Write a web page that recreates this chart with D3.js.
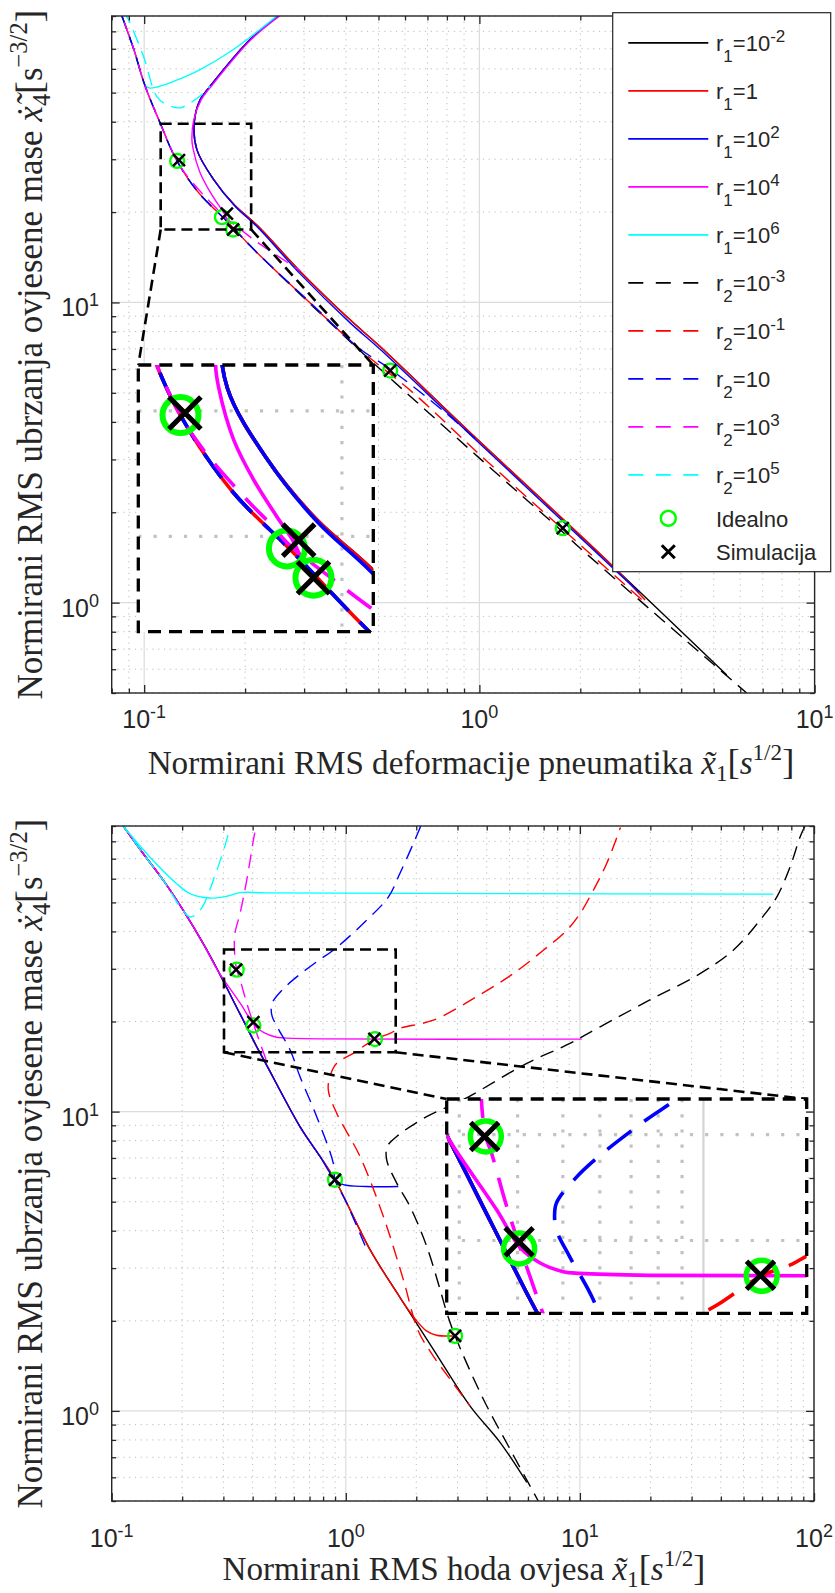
<!DOCTYPE html>
<html><head><meta charset="utf-8">
<script src="https://cdn.jsdelivr.net/npm/d3@7"></script>
<style>body{margin:0;background:#fff}svg{display:block}</style>
</head><body>
<script>
// ---------------- DATA ----------------
// Upper plot: x = tyre deflection RMS, y = sprung mass acceleration RMS
const topBlackSolid = [[0.2515,90],[0.207,75.1],[0.1573,52.5],[0.1469,47.4],[0.141,39.6],[0.1436,32.3],[0.161,25.7],[0.186,21.1],[0.218,18.0],[0.292,12.69],[0.4115,8.75],[0.5056,7.13],[0.98,3.52],[2.51,1.318],[5.47,0.574]];
const topRedSolid = [[0.2515,90],[0.207,75.1],[0.1573,52.5],[0.1469,47.4],[0.141,39.6],[0.1436,32.3],[0.161,25.7],[0.186,21.1],[0.218,18.0],[0.292,12.69],[0.4115,8.75],[0.5056,7.13],[0.98,3.52],[2.51,1.318],[3.12,1.02]];
const topBlueSolid = [[0.2515,90],[0.207,75.1],[0.1573,52.5],[0.1469,47.4],[0.141,39.6],[0.1436,32.3],[0.161,25.7],[0.186,21.0],[0.218,17.8],[0.292,12.45],[0.4115,8.55],[0.5056,6.98],[0.98,3.47],[2.51,1.3],[3.0,1.08]];
const topMagentaSolid = [[0.2535,90],[0.2085,75.1],[0.1585,52.5],[0.148,47.4],[0.1405,40.5],[0.1388,34.8],[0.14,32.4],[0.1463,27.3],[0.155,24.0],[0.1658,21.3],[0.1723,20.0],[0.1745,19.5],[0.179,18.4],[0.1842,17.5]];
const topCyanSolid = [[0.0858,90],[0.093,70],[0.1007,53],[0.1035,51.8],[0.11,52.3],[0.1223,54.5],[0.1469,59.7],[0.1846,69.6],[0.2487,90]];
const topBlackDashed = [[0.0858,90],[0.093,70],[0.1007,52.5],[0.1116,39.6],[0.1245,30],[0.1449,23.3],[0.174,18.95],[0.2139,14.9],[0.3127,9.9],[0.4407,6.9],[1.0,3.03],[1.773,1.72],[1.996,1.52],[6.27,0.5]];
const topRedDashed = [[0.0858,90],[0.093,70],[0.1007,52.5],[0.1116,39.6],[0.1245,30],[0.1449,23.3],[0.174,18.95],[0.2139,14.9],[0.3127,9.95],[0.4407,6.96],[0.6355,4.99],[1.0,3.12],[1.996,1.56],[3.12,1.0]];
const topBlueDashed = [[0.0858,90],[0.093,70],[0.1007,52.5],[0.1116,39.6],[0.1245,30],[0.1449,23.3],[0.174,18.95],[0.2139,14.9],[0.3127,10.0],[0.4407,7.0],[0.5417,6.0],[0.781,4.35],[1.005,3.40]];
const topMagentaDashed = [[0.0858,90],[0.093,70],[0.1007,52.5],[0.1116,39.6],[0.1245,30],[0.1342,26.4],[0.152,22.5],[0.1642,20.6],[0.1706,19.6],[0.199,17.1],[0.217,15.9],[0.25,14.3],[0.292,12.75]];
const topCyanDashed = [[0.0885,90],[0.0898,87.5],[0.0995,66.1],[0.1091,48.5],[0.1169,45.6],[0.128,44.5],[0.137,46.2],[0.1469,48.7],[0.1573,52.5]];
const topIdeal = [[0.1254,29.6],[0.1706,19.24],[0.1842,17.5],[0.5417,5.93],[1.773,1.77]];
const topSim = [[0.127,29.8],[0.1765,19.76],[0.1842,17.5],[0.5417,5.93],[1.773,1.77]];
const topZoomX = [0.112,0.2085], topZoomY = [17.5,39.4];
const topInsetX = [0.111,0.219], topInsetY = [14.7,34.8];

// Lower plot: x = suspension travel RMS, y = sprung mass acceleration RMS
const botBlackSolid = [[0.112,90],[0.1365,72.7],[0.1662,59.2],[0.2022,47.0],[0.246,36.4],[0.2841,29.6],[0.3533,21.2],[0.4249,15.98],[0.459,14.3],[0.637,8.91],[0.776,7.08],[0.899,5.92],[1.269,3.46],[1.70,2.40],[2.365,1.606],[3.39,1.04],[4.56,0.785],[5.93,0.577]];
const botRedSolid = [[0.112,90],[0.1365,72.7],[0.1662,59.2],[0.2022,47.0],[0.246,36.4],[0.2841,29.6],[0.3533,21.2],[0.4249,15.98],[0.459,14.3],[0.637,8.91],[0.776,7.08],[0.899,5.92],[1.269,3.46],[1.70,2.40],[1.95,2.06],[2.21,1.85],[2.44,1.79],[2.93,1.78]];
const botBlueSolid = [[0.112,90],[0.1365,72.7],[0.1662,59.2],[0.2022,47.0],[0.246,36.4],[0.2841,29.6],[0.3533,21.2],[0.4249,15.98],[0.459,14.3],[0.637,8.91],[0.776,7.08],[0.899,5.92],[0.976,5.70],[1.228,5.62],[1.676,5.62]];
const botMagentaSolid = [[0.112,90],[0.1365,72.7],[0.1662,59.2],[0.2022,47.0],[0.246,36.4],[0.2841,29.6],[0.3607,22.5],[0.4055,19.45],[0.447,18.35],[0.501,17.75],[0.544,17.63],[0.768,17.5],[10.18,17.47]];
const botCyanSolid = [[0.112,90],[0.1458,70.8],[0.1896,57.7],[0.216,53.5],[0.263,51.7],[0.31,52.4],[0.353,53.9],[0.459,53.8],[5,53.5],[67,53.3]];
const botBlackDashed = [[91.5,90],[87.1,82.5],[79,65.6],[69.3,52.1],[58.8,43.6],[45.2,34.6],[32.6,28.9],[19.9,23.6],[12.2,19.2],[8.78,16.7],[5.93,14.5],[3.2,11.0],[2.215,9.62],[1.65,8.26],[1.504,7.64],[1.495,6.9],[1.65,5.77],[1.88,4.82],[2.215,3.55],[2.526,2.55],[2.70,2.13],[2.93,1.78],[3.87,1.094],[5.03,0.745],[6.64,0.5]];
const botRedDashed = [[14.9,89],[13.0,67.3],[11.4,54.8],[10.0,45.8],[8.78,40.3],[6.98,34.6],[5.19,28.9],[3.62,24.2],[2.365,20.2],[1.70,18.97],[1.545,18.25],[1.333,17.47],[1.076,15.66],[0.914,14.5],[0.856,13.1],[0.842,11.8],[0.914,9.88],[1.15,7.08],[1.446,4.47],[1.76,2.75],[2.04,1.85],[2.365,1.525],[2.79,1.276],[3.39,1.04]];
const botBlueDashed = [[2.09,90],[2.01,83.6],[1.70,62.3],[1.519,52.1],[1.228,43.6],[0.884,34.6],[0.756,31.8],[0.597,27.6],[0.53,25.3],[0.4846,23.1],[0.48,22.0],[0.4846,20.8],[0.517,18.8],[0.58,15.98],[0.637,13.1],[0.751,9.62],[0.884,6.73],[0.899,5.92],[1.009,4.95],[1.228,3.46]];
const botMagentaDashed = [[0.416,90],[0.409,85.8],[0.3773,59.2],[0.3533,45.9],[0.336,39.3],[0.3348,34.1],[0.342,29.8],[0.3517,27.96],[0.379,22.8],[0.418,18.1],[0.447,15.6],[0.47,14.0]];
const botCyanDashed = [[0.112,90],[0.1365,72.7],[0.1662,59.2],[0.199,47.6],[0.216,44.7],[0.2383,47.0],[0.281,63.9],[0.315,84.7],[0.32,90]];
const botIdeal = [[0.342,29.8],[0.403,19.4],[1.333,17.47],[0.899,5.92],[2.93,1.78]];
const botSim = [[0.34,29.8],[0.403,19.9],[1.325,17.5],[0.899,5.92],[2.93,1.78]];
const botZoomX = [0.3018,1.634], botZoomY = [15.78,34.8];
const botInsetX = [0.282,1.664], botInsetY = [15.13,34.4];

// legend texts
const legendSub = ['1','1','1','1','1','2','2','2','2','2'];
const legendBase = ['10','1','10','10','10','10','10','10','10','10'];
const legendExp = ['-2','','2','4','6','-3','-1','','3','5'];
const legendMarkers = ['Idealno','Simulacija'];

// axis titles
const topXTitle = 'Normirani RMS deformacije pneumatika ';
const botXTitle = 'Normirani RMS hoda ovjesa ';
const yTitle = 'Normirani RMS ubrzanja ovjesene mase ';

// ---------------- DRAWING ----------------
const COLORS = {k:'#000000', r:'#ff0000', b:'#0000ff', m:'#ff00ff', c:'#00ffff'};
const series = [
  {c:'k', dash:false, off:0, top:topBlackSolid, bot:botBlackSolid},
  {c:'r', dash:false, off:0, top:topRedSolid, bot:botRedSolid},
  {c:'b', dash:false, off:0, top:topBlueSolid, bot:botBlueSolid},
  {c:'m', dash:false, off:0, top:topMagentaSolid, bot:botMagentaSolid},
  {c:'c', dash:false, off:0, top:topCyanSolid, bot:botCyanSolid},
  {c:'k', dash:true, off:0, top:topBlackDashed, bot:botBlackDashed},
  {c:'r', dash:true, off:11, top:topRedDashed, bot:botRedDashed},
  {c:'b', dash:true, off:0, top:topBlueDashed, bot:botBlueDashed},
  {c:'m', dash:true, off:15, top:topMagentaDashed, bot:botMagentaDashed},
  {c:'c', dash:true, off:6, top:topCyanDashed, bot:botCyanDashed}
];

const W = 835, H = 1593;
const svg = d3.select('body').append('svg').attr('width',W).attr('height',H);
svg.append('rect').attr('width',W).attr('height',H).attr('fill','#fff');
const AX = '#262626';
const SANS = '"Liberation Sans", Arial, Helvetica, sans-serif';
const SERIF = '"Liberation Serif", "Times New Roman", serif';

function logTicks(d){
  const out=[]; const lo=Math.floor(Math.log10(d[0])), hi=Math.ceil(Math.log10(d[1]));
  for(let k=lo;k<=hi;k++) for(let t=1;t<10;t++){
    const v=+(t*Math.pow(10,k)).toPrecision(6);
    if(v>=d[0]*0.9999 && v<=d[1]*1.0001) out.push(v);
  }
  return out;
}
const isMajor = v => Math.abs(Math.log10(v)-Math.round(Math.log10(v)))<1e-9;

function drawMarkers(g, x, y, data, kind, r, sw){
  if(kind==='o'){
    g.selectAll(null).data(data).join('circle')
      .attr('cx',d=>x(d[0])).attr('cy',d=>y(d[1])).attr('r',r)
      .attr('fill','none').attr('stroke','#00ff00').attr('stroke-width',sw);
  } else {
    g.selectAll(null).data(data).join('path')
      .attr('d',d=>{const cx=x(d[0]),cy=y(d[1]);return `M${cx-r},${cy-r}L${cx+r},${cy+r}M${cx-r},${cy+r}L${cx+r},${cy-r}`;})
      .attr('stroke','#000').attr('stroke-width',sw).attr('fill','none');
  }
}

function drawGrid(g, x, y, xd, yd, box, style){
  const xt=logTicks(xd), yt=logTicks(yd);
  g.selectAll(null).data(xt).join('line')
    .attr('x1',d=>x(d)).attr('x2',d=>x(d)).attr('y1',box.T).attr('y2',box.B)
    .attr('stroke',d=>isMajor(d)?style.majC:style.minC).attr('stroke-width',d=>isMajor(d)?style.majW:style.minW)
    .attr('stroke-dasharray',d=>isMajor(d)?null:style.dash);
  g.selectAll(null).data(yt).join('line')
    .attr('y1',d=>y(d)).attr('y2',d=>y(d)).attr('x1',box.L).attr('x2',box.R)
    .attr('stroke',d=>isMajor(d)?style.majC:style.minC).attr('stroke-width',d=>isMajor(d)?style.majW:style.minW)
    .attr('stroke-dasharray',d=>isMajor(d)?null:style.dash);
}

function drawPlot(P){
  const g = svg.append('g');
  const x = d3.scaleLog().domain(P.xDom).range([P.L,P.R]);
  const y = d3.scaleLog().domain(P.yDom).range([P.B,P.T]);
  const clipId='clip-'+P.key;
  svg.append('clipPath').attr('id',clipId).append('rect')
    .attr('x',P.L).attr('y',P.T).attr('width',P.R-P.L).attr('height',P.B-P.T);

  drawGrid(g.append('g'), x, y, P.xDom, P.yDom, P, {majC:'#dcdcdc', minC:'#bcbcbc', majW:1.2, minW:1, dash:'1.2,4.6'});

  const line = d3.line().x(d=>x(d[0])).y(d=>y(d[1])).curve(d3.curveCatmullRom.alpha(0.5));
  const cg = g.append('g').attr('clip-path',`url(#${clipId})`);
  series.forEach(s=>{
    cg.append('path').attr('d',line(s[P.key])).attr('fill','none')
      .attr('stroke',COLORS[s.c]).attr('stroke-width',1.4)
      .attr('stroke-dasharray',s.dash?'14,8':null).attr('stroke-dashoffset',s.off);
  });
  drawMarkers(cg, x, y, P.ideal, 'o', 7, 2.3);
  drawMarkers(cg, x, y, P.sim, 'x', 6, 2.5);

  // zoom box + connectors
  const bx0=x(P.zoomX[0]), bx1=x(P.zoomX[1]), by0=y(P.zoomY[1]), by1=y(P.zoomY[0]);
  const I=P.inset;
  const zb = g.append('g').attr('stroke','#000').attr('stroke-width',2.6).attr('fill','none').attr('stroke-dasharray','11,6');
  zb.append('rect').attr('x',bx0).attr('y',by0).attr('width',bx1-bx0).attr('height',by1-by0);
  zb.append('line').attr('x1',bx0).attr('y1',by1).attr('x2',I.L).attr('y2',I.T);
  zb.append('line').attr('x1',bx1).attr('y1',by1).attr('x2',I.R).attr('y2',I.T);

  // inset
  const xi = d3.scaleLog().domain(I.xDom).range([I.L,I.R]);
  const yi = d3.scaleLog().domain(I.yDom).range([I.B,I.T]);
  const iclip='iclip-'+P.key;
  svg.append('clipPath').attr('id',iclip).append('rect')
    .attr('x',I.L).attr('y',I.T).attr('width',I.R-I.L).attr('height',I.B-I.T);
  const ig = g.append('g');
  ig.append('rect').attr('x',I.L).attr('y',I.T).attr('width',I.R-I.L).attr('height',I.B-I.T).attr('fill','#fff');
  drawGrid(ig.append('g').attr('clip-path',`url(#${iclip})`), xi, yi, I.xDom, I.yDom, I, {majC:'#d4d4d4', minC:'#c2c2c2', majW:2.2, minW:3.2, dash:'3.2,12'});
  const iline = d3.line().x(d=>xi(d[0])).y(d=>yi(d[1])).curve(d3.curveCatmullRom.alpha(0.5));
  const icg = ig.append('g').attr('clip-path',`url(#${iclip})`);
  series.forEach(s=>{
    icg.append('path').attr('d',iline(s[P.key])).attr('fill','none')
      .attr('stroke',COLORS[s.c]).attr('stroke-width',3.6)
      .attr('stroke-dasharray',s.dash?'30,16':null).attr('stroke-dashoffset',s.off*2.1);
  });
  drawMarkers(icg, xi, yi, P.ideal, 'o', I.mr, I.msw);
  drawMarkers(icg, xi, yi, P.sim, 'x', I.xh, I.xsw);
  ig.append('rect').attr('x',I.L).attr('y',I.T).attr('width',I.R-I.L).attr('height',I.B-I.T)
    .attr('fill','none').attr('stroke','#000').attr('stroke-width',3.3).attr('stroke-dasharray','13,8');

  // axes ticks (inward, mirrored)
  const xt=logTicks(P.xDom), yt=logTicks(P.yDom);
  const xMaj=xt.filter(isMajor), xMin=xt.filter(v=>!isMajor(v));
  const yMaj=yt.filter(isMajor), yMin=yt.filter(v=>!isMajor(v));
  const ag = g.append('g');
  const addAxis=(axis, tr)=>{
    const a=ag.append('g').attr('transform',tr).call(axis);
    a.select('.domain').remove();
    a.selectAll('line').attr('stroke',AX).attr('stroke-width',1.3);
  };
  [[xMin,4.5],[xMaj,8]].forEach(([v,s])=>{
    addAxis(d3.axisBottom(x).tickValues(v).tickSize(-s).tickFormat(''),`translate(0,${P.B})`);
    addAxis(d3.axisTop(x).tickValues(v).tickSize(-s).tickFormat(''),`translate(0,${P.T})`);
  });
  [[yMin,4.5],[yMaj,8]].forEach(([v,s])=>{
    addAxis(d3.axisLeft(y).tickValues(v).tickSize(-s).tickFormat(''),`translate(${P.L},0)`);
    addAxis(d3.axisRight(y).tickValues(v).tickSize(-s).tickFormat(''),`translate(${P.R},0)`);
  });
  ag.append('rect').attr('x',P.L).attr('y',P.T).attr('width',P.R-P.L).attr('height',P.B-P.T)
    .attr('fill','none').attr('stroke',AX).attr('stroke-width',1.4);

  // tick labels
  const tl = g.append('g').attr('font-family',SANS).attr('font-size',25).attr('fill',AX);
  xMaj.forEach(v=>{
    const t=tl.append('text').attr('x',x(v)).attr('y',P.xTickBase).attr('text-anchor','middle');
    t.append('tspan').text('10');
    t.append('tspan').attr('dy',-10).attr('font-size',18).text(String(Math.round(Math.log10(v))));
  });
  yMaj.forEach(v=>{
    const t=tl.append('text').attr('x',99).attr('y',y(v)+14).attr('text-anchor','end');
    t.append('tspan').text('10');
    t.append('tspan').attr('dy',-10).attr('font-size',18).text(String(Math.round(Math.log10(v))));
  });
  return {x,y,g};
}

drawPlot({key:'top', L:111.7, R:814.6, T:16, B:693, xDom:[0.08,10], yDom:[0.5,90], xTickBase:728,
  zoomX:topZoomX, zoomY:topZoomY, ideal:topIdeal, sim:topSim,
  inset:{L:138.3, R:373.3, T:365, B:631.7, xDom:topInsetX, yDom:topInsetY, mr:18, msw:6, xh:16, xsw:5.2}});
drawPlot({key:'bot', L:111.7, R:814, T:826, B:1501, xDom:[0.1,100], yDom:[0.5,90], xTickBase:1547,
  zoomX:botZoomX, zoomY:botZoomY, ideal:botIdeal, sim:botSim,
  inset:{L:446.7, R:806.7, T:1099, B:1313.3, xDom:botInsetX, yDom:botInsetY, mr:15.5, msw:5.5, xh:14, xsw:5}});

// legend (upper plot)
const lg = svg.append('g');
lg.append('rect').attr('x',612.7).attr('y',12.7).attr('width',218).attr('height',559)
  .attr('fill','#fff').attr('stroke',AX).attr('stroke-width',1.2);
series.forEach((s,i)=>{
  const ly = 42.9 + i*48;
  lg.append('line').attr('x1',628.3).attr('x2',s.dash?698.3:708.3).attr('y1',ly).attr('y2',ly)
    .attr('stroke',COLORS[s.c]).attr('stroke-width',1.6).attr('stroke-dasharray',s.dash?'15,12.5':null);
  const t = lg.append('text').attr('x',716).attr('y',ly+8.4).attr('font-family',SANS).attr('font-size',22).attr('fill',AX);
  t.append('tspan').text('r');
  t.append('tspan').attr('dy',11).attr('font-size',17).text(legendSub[i]);
  t.append('tspan').attr('dy',-11).text('='+legendBase[i]);
  if(legendExp[i]) t.append('tspan').attr('dy',-9).attr('font-size',17).text(legendExp[i]);
});
const lmy = d3.scaleLinear().domain([0,1]).range([518.3,551.7]);
const lmx = 668.3;
lg.append('circle').attr('cx',lmx).attr('cy',lmy(0)).attr('r',7.5).attr('fill','none').attr('stroke','#00ff00').attr('stroke-width',2.5);
lg.append('path').attr('d',`M${lmx-6.5},${lmy(1)-6.5}L${lmx+6.5},${lmy(1)+6.5}M${lmx-6.5},${lmy(1)+6.5}L${lmx+6.5},${lmy(1)-6.5}`).attr('stroke','#000').attr('stroke-width',3);
legendMarkers.forEach((m,i)=>{
  lg.append('text').attr('x',716).attr('y',lmy(i)+8.4).attr('font-family',SANS).attr('font-size',22).attr('fill',AX).text(m);
});

// axis titles
function title(pieces, F, attrs){
  const t = svg.append('text').attr('font-family',SERIF).attr('font-size',F).attr('fill',AX).attr('text-anchor','middle');
  Object.entries(attrs).forEach(([k,v])=>t.attr(k,v));
  pieces.forEach(p=>{
    const ts=t.append('tspan').text(p.t);
    if(p.it) ts.attr('font-style','italic');
    if(p.fs) ts.attr('font-size',p.fs*F);
    if(p.dy) ts.attr('dy',p.dy*F);
  });
  return t;
}
function fitSize(pieces, target){
  const F0=30;
  const probe = title(pieces, F0, {x:0,y:-100});
  const w = probe.node().getBBox().width; probe.remove();
  return F0*target/w;
}
const xMath = [{t:'x\u0303',it:1},{t:'1',fs:0.7,dy:0.22},{t:'[',dy:-0.22,fs:1.1},{t:'s',it:1},{t:'1/2',fs:0.7,dy:-0.42},{t:']',dy:0.42,fs:1.1}];
const yMath = [{t:'x\u0307\u0303',it:1},{t:'4',fs:0.7,dy:0.22},{t:'[',dy:-0.22,fs:1.1},{t:'s'},{t:'\u22123/2',fs:0.7,dy:-0.42},{t:']',dy:0.42,fs:1.1}];
const Fx = fitSize([{t:topXTitle}].concat(xMath), 647);
const Fy = fitSize([{t:yTitle}].concat(yMath), 690);
title([{t:topXTitle}].concat(xMath), Fx, {x:471, y:774});
title([{t:botXTitle}].concat(xMath), Fx, {x:464, y:1580});
title([{t:yTitle}].concat(yMath), Fy, {transform:'translate(42,354.5) rotate(-90)'});
title([{t:yTitle}].concat(yMath), Fy, {transform:'translate(42,1163.5) rotate(-90)'});
</script>
</body></html>
